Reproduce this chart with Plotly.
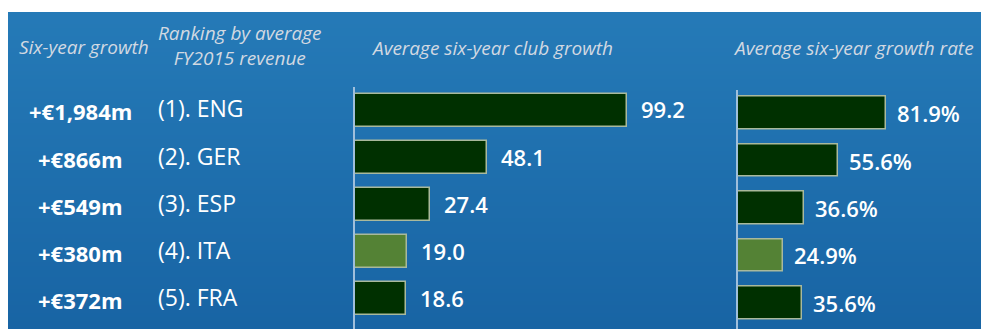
import plotly.graph_objects as go

# ---- data -------------------------------------------------------------
countries = ["ENG", "GER", "ESP", "ITA", "FRA"]
rank_labels = ["(1). ENG", "(2). GER", "(3). ESP", "(4). ITA", "(5). FRA"]
six_year_growth = ["+€1,984m", "+€866m", "+€549m", "+€380m", "+€372m"]
avg_club_growth = [99.2, 48.1, 27.4, 19.0, 18.6]          # €m per club
avg_growth_rate = [81.9, 55.6, 36.6, 24.9, 35.6]          # %
highlight = "ITA"

# ---- styling ----------------------------------------------------------
W, H = 981, 329
DARK = "#003000"
LIGHT = "#548235"
OUTLINE = "#a9b99c"
AXIS = "#9fbfdc"
HEAD = "#d2d9e2"
FONT = "Open Sans"

bar_colors = [LIGHT if c == highlight else DARK for c in countries]
ypos = list(range(len(countries)))


def px_x(p):
    return p / W


def px_y(p):
    return 1 - p / H


fig = go.Figure()

# club growth bars (left panel)
fig.add_trace(go.Bar(
    x=avg_club_growth, y=ypos, orientation="h", width=0.70,
    marker=dict(color=bar_colors, line=dict(color=OUTLINE, width=1.5)),
    xaxis="x", yaxis="y", hoverinfo="skip",
))
# growth-rate bars (right panel)
fig.add_trace(go.Bar(
    x=avg_growth_rate, y=ypos, orientation="h", width=0.69,
    marker=dict(color=bar_colors, line=dict(color=OUTLINE, width=1.5)),
    xaxis="x2", yaxis="y2", hoverinfo="skip",
))

# gradient backdrop panel: each band runs from its own top edge down to the
# panel bottom, so later bands overlap earlier ones and no seams appear
top_rgb = (0x25, 0x7A, 0xB7)
bot_rgb = (0x18, 0x64, 0xA4)
panel_top, panel_bot, panel_left = 12, H, 8
n = 80
shapes = []
for i in range(n):
    t = i / (n - 1)
    c = tuple(round(a + (b - a) * t) for a, b in zip(top_rgb, bot_rgb))
    y0 = round(panel_top + (panel_bot - panel_top) * i / n)
    shapes.append(dict(
        type="rect", xref="paper", yref="paper", layer="below",
        x0=px_x(panel_left), x1=1, y0=0, y1=px_y(y0),
        fillcolor="rgb(%d,%d,%d)" % c, line=dict(width=0),
    ))

annotations = []
# value labels
for v, yy in zip(avg_club_growth, ypos):
    annotations.append(dict(
        x=v, y=yy, xref="x", yref="y", text=f"{v:.1f}", showarrow=False,
        xanchor="left", yanchor="middle", xshift=12, yshift=1,
        font=dict(family=FONT, size=22, color="white", weight=600),
    ))
for v, yy in zip(avg_growth_rate, ypos):
    annotations.append(dict(
        x=v, y=yy, xref="x2", yref="y2", text=f"{v:.1f}%", showarrow=False,
        xanchor="left", yanchor="middle", xshift=9, yshift=0,
        font=dict(family=FONT, size=22, color="white", weight=600),
    ))
# row labels
for g, r, yy in zip(six_year_growth, rank_labels, ypos):
    annotations.append(dict(
        x=px_x(80), y=yy, xref="paper", yref="y", text=g, showarrow=False,
        xanchor="center", yanchor="middle", yshift=-1,
        font=dict(family=FONT, size=22, color="white", weight=700),
    ))
    annotations.append(dict(
        x=px_x(156), y=yy, xref="paper", yref="y", text=r, showarrow=False,
        xanchor="left", yanchor="middle", yshift=2,
        font=dict(family=FONT, size=23, color="white", weight=500),
    ))

# column headers
hfont = dict(family=FONT, size=19, color=HEAD, style="italic", weight=500)
headers = [
    ("Six-year growth", 84, 47),
    ("Ranking by average<br>FY2015 revenue", 240, 46),
    ("Average six-year club growth", 492, 48),
    ("Average six-year growth rate", 853, 48),
]
for txt, cx, cy in headers:
    annotations.append(dict(
        x=px_x(cx), y=px_y(cy), xref="paper", yref="paper", text=txt,
        showarrow=False, xanchor="center", yanchor="middle", font=hfont,
    ))

# axis geometry: zero lines at fixed pixel columns, linear px-per-unit
x1_zero, x1_scale, x1_max = 355, 2.742, 120
x2_zero, x2_scale, x2_max = 738, 1.805, 128
y1_top, y1_pitch = 87, 47.0
y2_top, y2_pitch = 89.5, 47.4

fig.update_layout(
    width=W, height=H, margin=dict(l=0, r=0, t=0, b=0),
    paper_bgcolor="white", plot_bgcolor="rgba(0,0,0,0)",
    showlegend=False, bargap=0, shapes=shapes, annotations=annotations,
    xaxis=dict(domain=[px_x(x1_zero), px_x(x1_zero + x1_max * x1_scale)],
               range=[0, x1_max], visible=False, fixedrange=True),
    yaxis=dict(domain=[0, px_y(y1_top)],
               range=[(H - y1_top) / y1_pitch - 0.5, -0.5],
               showticklabels=False, ticks="", showgrid=False, zeroline=False,
               showline=True, linecolor=AXIS, linewidth=1.5, anchor="x"),
    xaxis2=dict(domain=[px_x(x2_zero), px_x(x2_zero + x2_max * x2_scale)],
                range=[0, x2_max], visible=False, fixedrange=True,
                anchor="y2"),
    yaxis2=dict(domain=[0, px_y(y2_top)],
                range=[(H - y2_top) / y2_pitch - 0.5, -0.5],
                showticklabels=False, ticks="", showgrid=False,
                zeroline=False, showline=True, linecolor=AXIS, linewidth=1.5,
                anchor="x2"),
)

fig.write_html("out.html")
